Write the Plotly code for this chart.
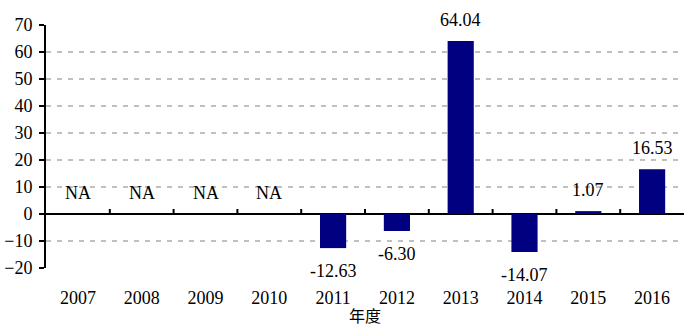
import plotly.graph_objects as go

# Annual growth figures (%), NA where no value is available
years = ["2007", "2008", "2009", "2010", "2011", "2012", "2013", "2014", "2015", "2016"]
values = [None, None, None, None, -12.63, -6.30, 64.04, -14.07, 1.07, 16.53]
y_ticks = [-20, -10, 0, 10, 20, 30, 40, 50, 60, 70]
x_title = "年度"

FONT = "'Liberation Serif', 'Times New Roman', serif"
FONT_SIZE = 18
BAR_COLOR = "#000080"

fig = go.Figure()
fig.add_trace(go.Bar(
    x=years,
    y=[v if v is not None else 0 for v in values],
    marker=dict(color=BAR_COLOR, line=dict(width=0)),
    width=0.41,
    hoverinfo="x+y",
))

# Value labels: above positive bars, below negative ones, "NA" for missing
annotations = []
for i, v in enumerate(values):
    if v is None:
        txt, yv, shift = "NA", 0, 21
    else:
        txt, yv = f"{v:.2f}", v
        shift = 21 if v >= 0 else -23
    annotations.append(dict(
        xref="x", yref="y", x=i, y=yv, text=txt, showarrow=False, yshift=shift,
        xanchor="center", yanchor="middle",
        font=dict(family=FONT, size=FONT_SIZE, color="#000000"),
    ))

# Category-boundary ticks pointing up from the zero line
shapes = []
for i in range(1, len(years)):
    shapes.append(dict(
        type="line", xref="x", yref="y", x0=i - 0.5, x1=i - 0.5,
        ysizemode="pixel", yanchor=0, y0=0, y1=5,
        line=dict(color="#000000", width=2),
    ))

fig.update_layout(
    width=684, height=327,
    margin=dict(l=46, r=0, t=25, b=59),
    paper_bgcolor="#ffffff", plot_bgcolor="#ffffff",
    showlegend=False,
    bargap=0.59,
    font=dict(family=FONT, size=FONT_SIZE, color="#000000"),
    annotations=annotations,
    shapes=shapes,
    xaxis=dict(
        type="category",
        range=[-0.5, len(years) - 0.5],
        showgrid=False, showline=False, zeroline=False,
        ticks="", ticklabelstandoff=17,
        tickfont=dict(family=FONT, size=FONT_SIZE),
        title=dict(text=x_title, standoff=0,
                   font=dict(family="'Noto Sans CJK SC', serif", size=16)),
    ),
    yaxis=dict(
        range=[-20, 70],
        tickvals=y_ticks,
        showgrid=True, gridcolor="#c0c0c0", gridwidth=2, griddash="5px,6px",
        zeroline=True, zerolinecolor="#000000", zerolinewidth=2,
        showline=True, linecolor="#000000", linewidth=2,
        ticks="outside", ticklen=5, tickwidth=2, tickcolor="#000000",
        ticklabelstandoff=3,
        tickfont=dict(family=FONT, size=FONT_SIZE),
    ),
)

fig.write_html("out.html")
